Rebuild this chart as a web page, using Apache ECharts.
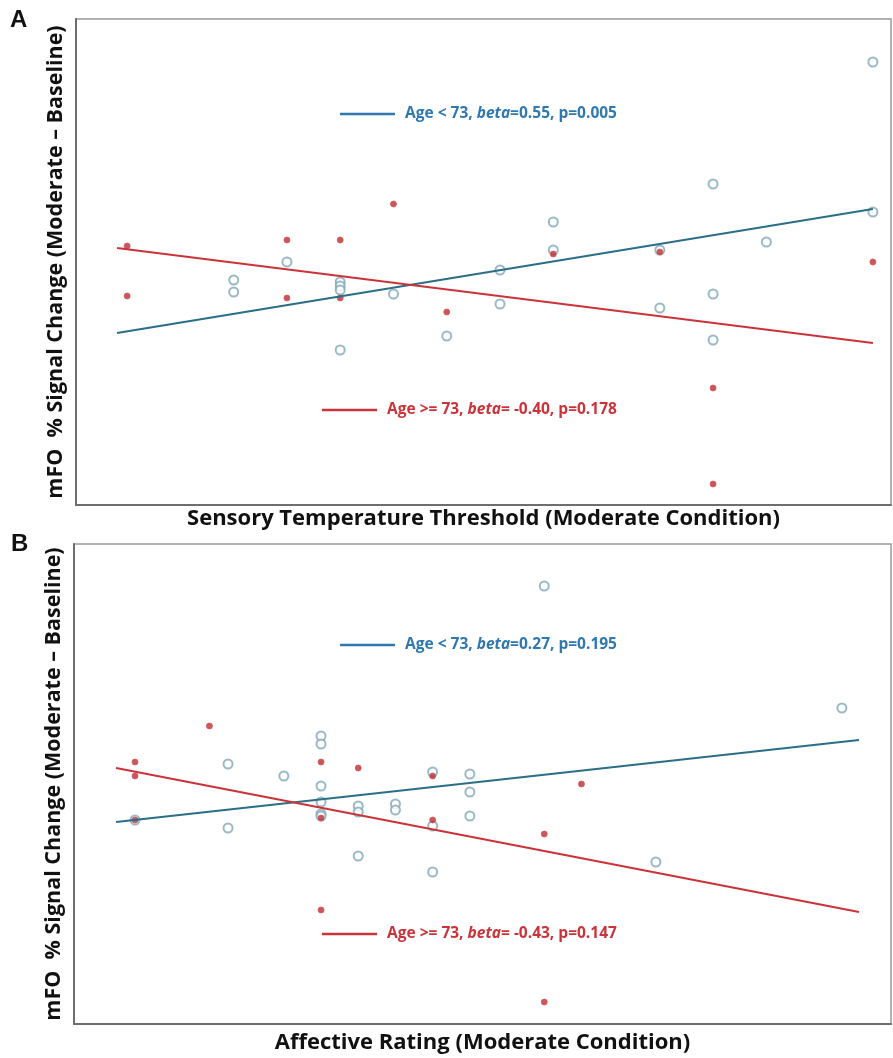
<!DOCTYPE html>
<html>
<head>
<meta charset="utf-8">
<script src="https://cdn.jsdelivr.net/npm/echarts@6/dist/echarts.min.js"></script>
<style>
  html, body { margin: 0; padding: 0; background: #fff; }
  #chart { width: 893px; height: 1058px; }
</style>
</head>
<body>
<div id="chart"></div>
<script>
// panel A: sensory temperature threshold vs mFO signal change
const aYoungX = [2, 2, 3, 4, 4, 4, 4, 5, 6, 7, 7, 8, 8, 10, 10, 11, 11, 11, 12, 14, 14]
const aYoungY = [0, -0.06, 0.09, -0.01, -0.03, -0.05, -0.35, -0.07, -0.28, 0.05, -0.12, 0.29, 0.15, 0.15, -0.14, 0.48, -0.07, -0.30, 0.19, 0.34, 1.09]
const aOldX = [0, 0, 3, 3, 4, 4, 5, 6, 8, 10, 11, 11, 14]
const aOldY = [0.17, -0.08, 0.20, -0.09, 0.20, -0.09, 0.38, -0.16, 0.13, 0.14, -0.54, -1.02, 0.09]
const aFitX = [-0.19, 14]
const aFitYoung = [-0.265, 0.355]
const aFitOld = [0.16, -0.315]

// panel B: affective rating vs mFO signal change
const bYoungX = [0, 2.5, 2.5, 4, 5, 5, 5, 5, 5, 5, 6, 6, 6, 7, 7, 8, 8, 8, 9, 9, 9, 11, 14, 19]
const bYoungY = [-0.10, 0.18, -0.14, 0.12, 0.32, 0.28, 0.07, -0.01, -0.07, -0.08, -0.03, -0.06, -0.28, -0.02, -0.05, 0.14, -0.13, -0.36, 0.13, 0.04, -0.08, 1.07, -0.31, 0.46]
const bOldX = [0, 0, 0, 2, 5, 5, 5, 6, 8, 8, 11, 11, 12]
const bOldY = [0.19, 0.12, -0.10, 0.37, 0.19, -0.09, -0.55, 0.16, 0.12, -0.10, -0.17, -1.01, 0.08]
const bFitX = [-0.51, 19.46]
const bFitYoung = [-0.11, 0.30]
const bFitOld = [0.16, -0.56]

const statsA = { young: ['0.55', '0.005'], old: [' -0.40', '0.178'] }
const statsB = { young: ['0.27', '0.195'], old: [' -0.43', '0.147'] }

const tealPoint = '#7fa8b8'
const blueLine = '#2b6e88'
const blueText = '#2f78b0'
const redCol = '#cc3339'
const font = '"Open Sans", Lato, sans-serif'

const pairs = (xs, ys) => xs.map((x, i) => [x, ys[i]])

function axisX(idx, min, max, name, gap) {
  return {
    type: 'value', gridIndex: idx, min: min, max: max,
    name: name, nameLocation: 'middle', nameGap: gap,
    nameTextStyle: { fontFamily: font, fontWeight: 'bold', fontSize: 22, color: '#111' },
    axisLine: { show: true, onZero: false, lineStyle: { color: '#6e6e6e', width: 2 } },
    axisTick: { show: false }, axisLabel: { show: false }, splitLine: { show: false }
  }
}
function axisY(idx, min, max) {
  return {
    type: 'value', gridIndex: idx, min: min, max: max,
    name: 'mFO  % Signal Change (Moderate \u2013 Baseline)', nameLocation: 'middle', nameGap: 9,
    nameRotate: 90,
    nameTextStyle: { fontFamily: font, fontWeight: 'bold', fontSize: 21.5, color: '#111' },
    axisLine: { show: true, onZero: false, lineStyle: { color: '#6e6e6e', width: 2 } },
    axisTick: { show: false }, axisLabel: { show: false }, splitLine: { show: false }
  }
}
function young(idx, xs, ys) {
  return {
    type: 'scatter', xAxisIndex: idx, yAxisIndex: idx, data: pairs(xs, ys),
    symbol: 'emptyCircle', symbolSize: 9,
    itemStyle: { color: tealPoint, borderColor: tealPoint, borderWidth: 1.6 }, z: 2
  }
}
function old(idx, xs, ys) {
  return {
    type: 'scatter', xAxisIndex: idx, yAxisIndex: idx, data: pairs(xs, ys),
    symbol: 'circle', symbolSize: 6,
    itemStyle: { color: '#b82e36', borderColor: '#d8555b', borderWidth: 1 }, z: 3
  }
}
function fit(idx, xs, ys, color) {
  return {
    type: 'line', xAxisIndex: idx, yAxisIndex: idx, data: pairs(xs, ys),
    showSymbol: false, lineStyle: { color: color, width: 2 }, z: 4, silent: true
  }
}
function note(x, y, color, prefix, stats) {
  return [{
    type: 'line', shape: { x1: x, y1: y, x2: x + 55, y2: y },
    style: { stroke: color, lineWidth: 2.5 }
  }, {
    type: 'text', x: x + 65, y: y, style: {
      text: '{n|' + prefix + '}{i|beta}{n|=' + stats[0] + ', p=' + stats[1] + '}',
      verticalAlign: 'middle', rich: {
        n: { fontFamily: font, fontWeight: 'bold', fontSize: 15.5, fill: color },
        i: { fontFamily: font, fontWeight: 'bold', fontStyle: 'italic', fontSize: 15.5, fill: color }
      }
    }
  }]
}

const chart = echarts.init(document.getElementById('chart'))
chart.setOption({
  backgroundColor: '#fff',
  animation: false,
  grid: [
    { left: 76, top: 19, width: 815, height: 486, show: true, borderColor: '#9a9a9a', borderWidth: 1.5 },
    { left: 74, top: 544, width: 817, height: 480, show: true, borderColor: '#9a9a9a', borderWidth: 1.5 }
  ],
  xAxis: [
    axisX(0, -0.96, 14.34, 'Sensory Temperature Threshold (Moderate Condition)', 3),
    axisX(1, -1.64, 20.32, 'Affective Rating (Moderate Condition)', 8)
  ],
  yAxis: [axisY(0, -1.125, 1.305), axisY(1, -1.12, 1.28)],
  series: [
    young(0, aYoungX, aYoungY), old(0, aOldX, aOldY),
    fit(0, aFitX, aFitYoung, blueLine), fit(0, aFitX, aFitOld, redCol),
    young(1, bYoungX, bYoungY), old(1, bOldX, bOldY),
    fit(1, bFitX, bFitYoung, blueLine), fit(1, bFitX, bFitOld, redCol)
  ],
  graphic: [
    { type: 'text', left: 10, top: 8, style: { text: 'A', font: 'bold 24px "Liberation Sans", Arial', fill: '#111' } },
    { type: 'text', left: 11, top: 532, style: { text: 'B', font: 'bold 24px "Liberation Sans", Arial', fill: '#111' } },
    ...note(340, 114, blueText, 'Age < 73, ', statsA.young),
    ...note(322, 410, redCol, 'Age >= 73, ', statsA.old),
    ...note(340, 645, blueText, 'Age < 73, ', statsB.young),
    ...note(322, 934, redCol, 'Age >= 73, ', statsB.old)
  ]
})
</script>
</body>
</html>
